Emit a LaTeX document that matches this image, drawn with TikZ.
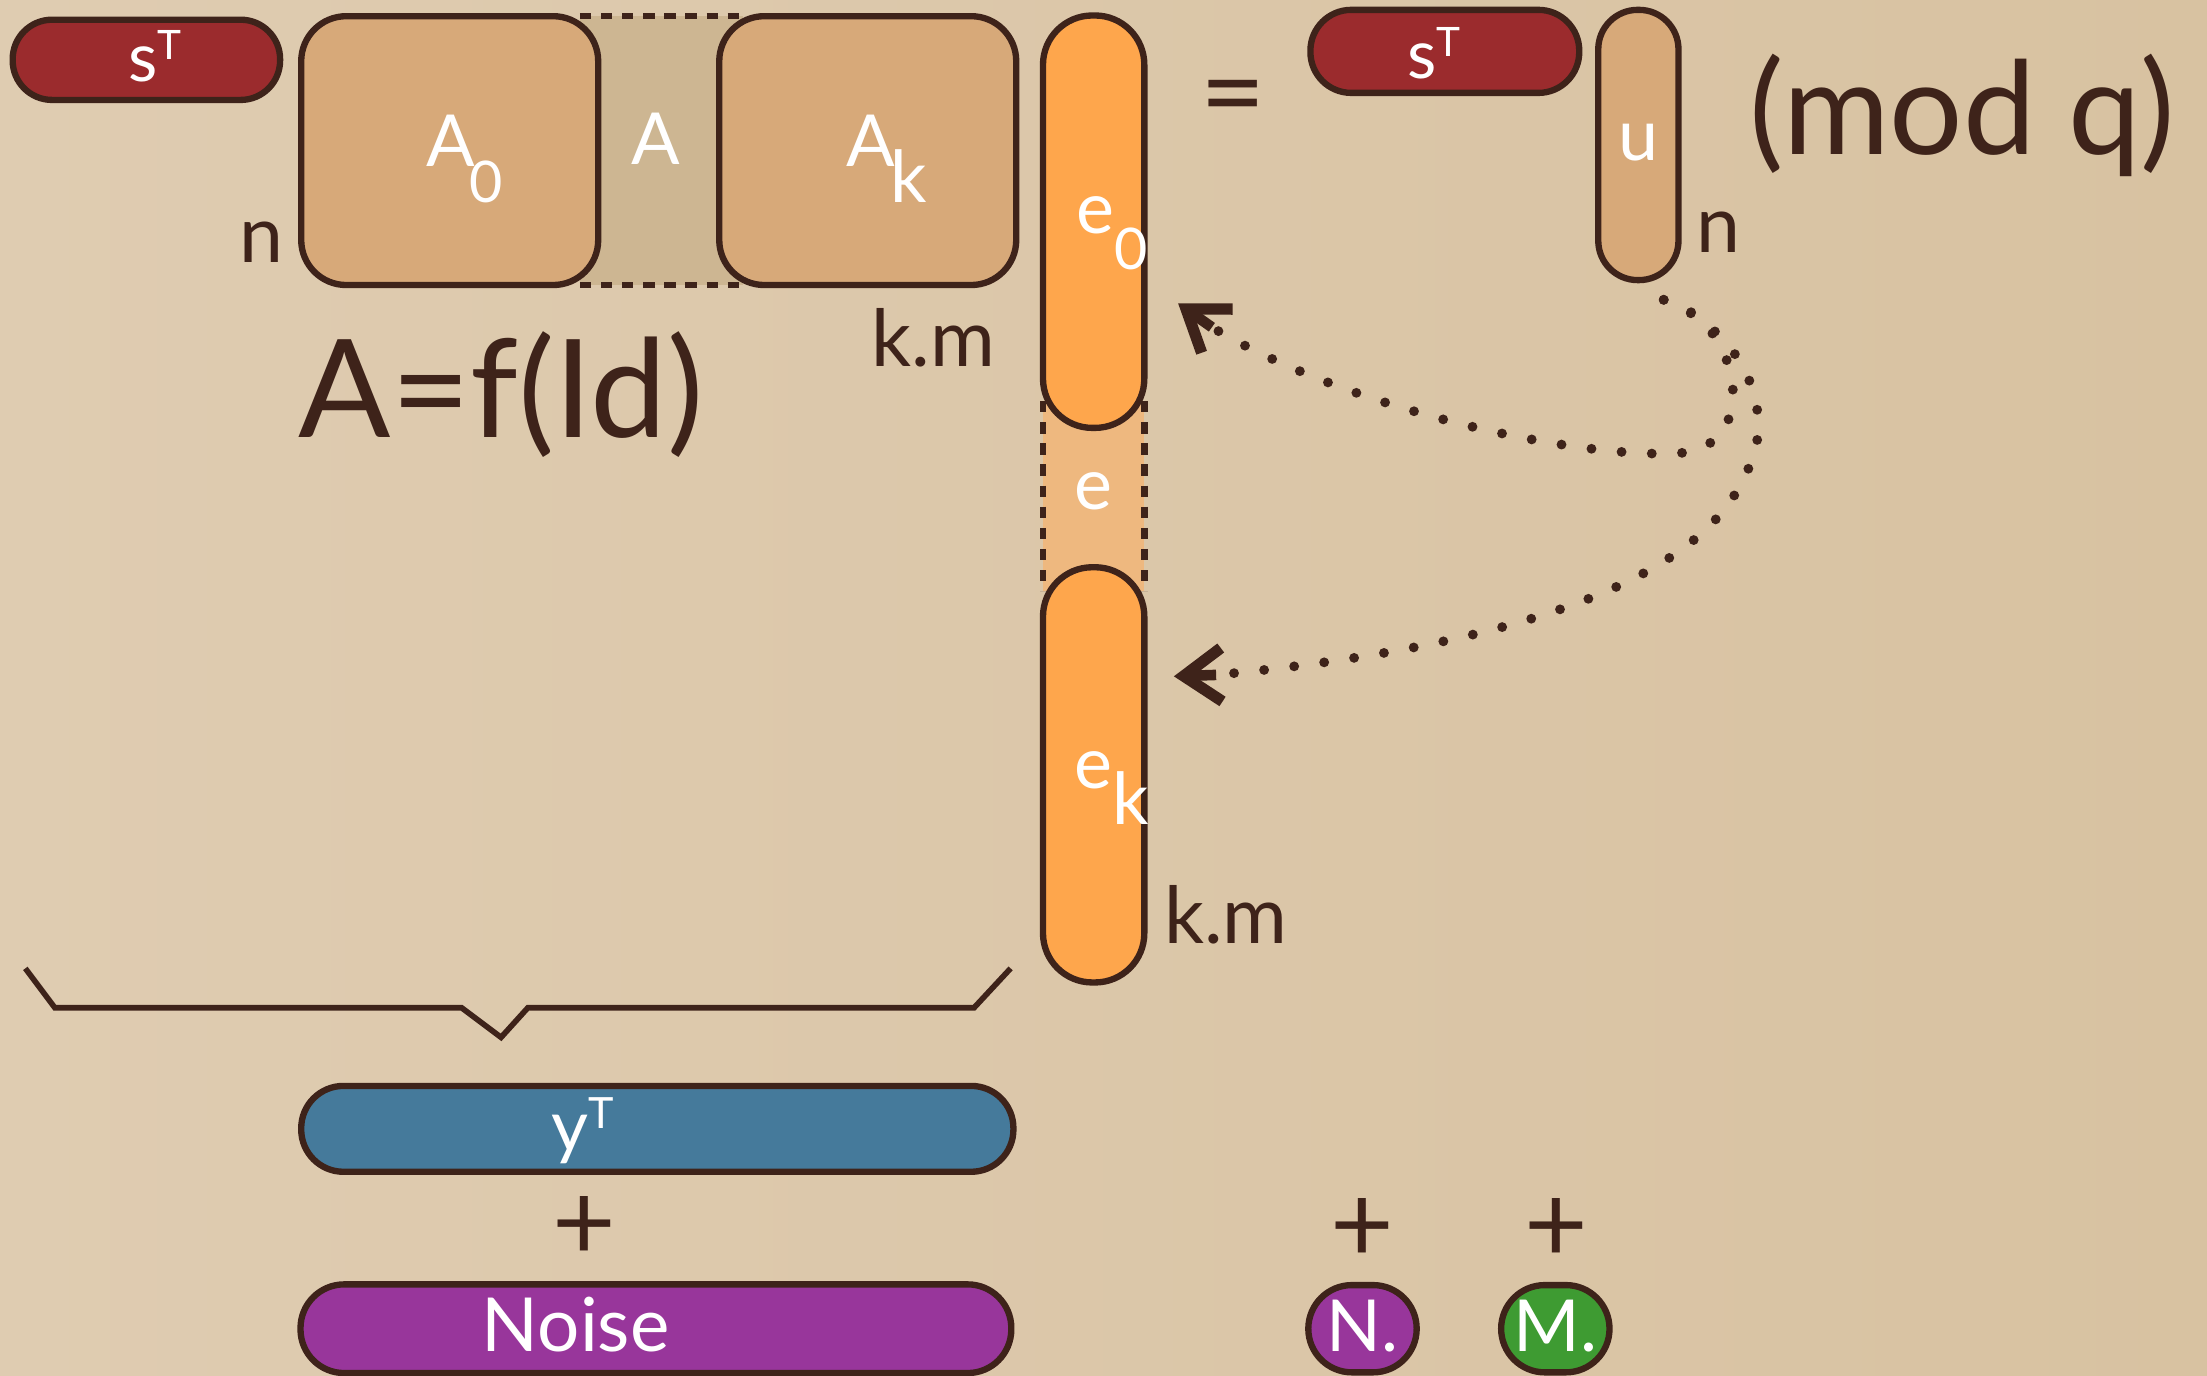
\documentclass[tikz,border=0pt]{standalone}
\usepackage{fontspec}
\setmainfont{Lato}
\usepackage{graphicx}
\usetikzlibrary{arrows.meta,calc}
\definecolor{paperL}{RGB}{223,204,177}
\definecolor{paperR}{RGB}{216,194,161}
\definecolor{ink}{RGB}{62,35,26}
\definecolor{sred}{RGB}{155,43,45}
\definecolor{tanbox}{RGB}{215,169,121}
\definecolor{tanmid}{RGB}{205,182,146}
\definecolor{eorange}{RGB}{254,166,76}
\definecolor{emid}{RGB}{238,184,127}
\definecolor{yblue}{RGB}{69,122,155}
\definecolor{npurple}{RGB}{152,54,155}
\definecolor{mgreen}{RGB}{62,155,50}
\newcommand\lowsub[2][0.8]{\raisebox{-0.5em}{\scalebox{#1}{#2}}}
\newcommand\supT{\raisebox{0.32em}{\scalebox{0.6}{T}}}
\pgfdeclarelayer{paper}
\pgfdeclarelayer{under}
\pgfsetlayers{paper,under,main}
\begin{document}
\begin{tikzpicture}[x=1pt,y=-1pt,
  shapebox/.style={draw=ink, line width=4.5pt, inner sep=0pt, outer sep=0pt},
  wlabel/.style={text=white, font=\fontsize{51}{60}\selectfont, inner sep=0pt},
  dlabel/.style={text=ink, font=\fontsize{56}{66}\selectfont, inner sep=0pt},
  dashline/.style={draw=ink, line width=4.5pt, dash pattern=on 8pt off 7pt},
  dotline/.style={draw=ink, line width=7pt, line cap=round, dash pattern=on 0pt off 21.5pt},
  tipline/.style={draw=ink, line width=7.5pt, -{Straight Barb[length=27pt,width=38pt,line width=8pt]}},
  bracketline/.style={draw=ink, line width=4pt, line join=miter}]
\useasboundingbox (0,0) rectangle (1568,977);
\begin{pgfonlayer}{paper}
\shade[left color=paperL, right color=paperR] (0,0) rectangle (1568,977);
\end{pgfonlayer}

% top row shapes
\node[shapebox, fill=sred, rounded corners=28pt, minimum width=190pt, minimum height=57pt] (sL) at (104,42.5) {};
\node[shapebox, fill=tanbox, rounded corners=32pt, minimum width=211pt, minimum height=191pt] (A0) at (319.5,107) {};
\node[shapebox, fill=tanbox, rounded corners=32pt, minimum width=211pt, minimum height=191pt] (Ak) at (616.5,107) {};
\node[shapebox, fill=eorange, rounded corners=35pt, minimum width=72pt, minimum height=293pt] (e0) at (777,157.5) {};
\node[shapebox, fill=eorange, rounded corners=35pt, minimum width=72pt, minimum height=295pt] (ek) at (777,550.5) {};
\node[shapebox, fill=sred, rounded corners=29pt, minimum width=191pt, minimum height=59pt] (sR) at (1026.5,36.5) {};
\node[shapebox, fill=tanbox, rounded corners=28pt, minimum width=57pt, minimum height=192pt] (u) at (1164,103) {};

% bottom shapes
\node[shapebox, fill=yblue, rounded corners=30pt, minimum width=506pt, minimum height=61pt] (yT) at (467,802) {};
\node[shapebox, fill=npurple, rounded corners=31pt, minimum width=505pt, minimum height=63pt] (noise) at (466,944) {};
\node[shapebox, fill=npurple, rounded corners=31pt, minimum width=77pt, minimum height=62pt] (Nn) at (968,944) {};
\node[shapebox, fill=mgreen, rounded corners=31pt, minimum width=77pt, minimum height=62pt] (Mm) at (1105,944) {};

% in-between regions (A and e)
\begin{pgfonlayer}{under}
\fill[tanmid] ($(A0.north east)+(-13,0)$) rectangle ($(Ak.south west)+(17,0)$);
\draw[dashline] ($(A0.north east)+(-13,0)$) -- ($(Ak.north west)+(17,0)$);
\draw[dashline] ($(A0.south east)+(-13,0)$) -- ($(Ak.south west)+(17,0)$);
\fill[emid] ($(e0.south west)+(0,-19)$) rectangle ($(ek.north east)+(0,17)$);
\draw[dashline] ($(e0.south west)+(0,-19)$) -- ($(ek.north west)+(0,17)$);
\draw[dashline] ($(e0.south east)+(0,-19)$) -- ($(ek.north east)+(0,17)$);
\end{pgfonlayer}

% white labels
\node[wlabel, font=\fontsize{48}{56}\selectfont] (sLt) at (110,40) {s\supT};
\node[wlabel] (A0t) at (330,113) {A\kern-0.08em\lowsub{0}};
\node[wlabel] (Amt) at (466,98.5) {A};
\node[wlabel] (Akt) at (630,113) {A\kern-0.06em\lowsub[1]{k}};
\node[wlabel] (e0t) at (790,166) {e\lowsub{0}};
\node[wlabel] (emt) at (777,349) {e};
\node[wlabel] (ekt) at (790,560) {e\lowsub[1]{k}};
\node[wlabel] (ut) at (1164,101) {u};
\node[wlabel, font=\fontsize{48}{56}\selectfont] (sRt) at (1019,38) {s\supT};
\node[wlabel] (yTt) at (414,803) {y\supT};
\node[wlabel, font=\fontsize{53}{60}\selectfont] (noiset) at (409,941) {Noise};
\node[wlabel] (Nt) at (968,942) {N.};
\node[wlabel] (Mt) at (1105,942) {M.};

% dark labels
\node[dlabel] (nL) at (186,172) {n};
\node[dlabel] (km1) at (663,240) {k.m};
\node[dlabel] (km2) at (871,650) {k.m};
\node[dlabel] (nR) at (1221,165) {n};
\node[dlabel, font=\fontsize{80}{90}\selectfont] (eq) at (876,75) {=};
\node[dlabel, font=\fontsize{97}{110}\selectfont] (Af) at (356,280) {A=f(Id)};
\node[dlabel, font=\fontsize{92}{104}\selectfont] (mod) at (1394,82) {(mod q)};
\node[dlabel, font=\fontsize{78}{90}\selectfont] (p1) at (415,873) {+};
\node[dlabel, font=\fontsize{78}{90}\selectfont] (p2) at (968,874) {+};
\node[dlabel, font=\fontsize{78}{90}\selectfont] (p3) at (1106,874) {+};

% bracket
\draw[bracketline] (18,688) -- (39,716) -- (328,716) -- (356,737) -- (375,716) -- (692,716) -- (718,688);

% dotted arrows
\coordinate (src) at ($(u.south)+(18,14)$);
\coordinate (t1) at ($(e0.east)+(24,58)$);
\coordinate (t1s) at ($(t1)+(24,17)$);
\coordinate (t2) at ($(ek.east)+(21,-70)$);
\coordinate (t2s) at ($(t2)+(30,-1)$);
\draw[dotline] (src) .. controls (1235,225) and (1255,318) .. (1192,322)
  .. controls (1122,326) and (960,292) .. (t1s);
\draw[dotline] (src) .. controls (1245,238) and (1262,300) .. (1240,337)
  .. controls (1205,420) and (1050,462) .. (t2s);
\draw[tipline] (t1s) -- (t1);
\draw[tipline] (t2s) -- (t2);
\end{tikzpicture}
\end{document}
